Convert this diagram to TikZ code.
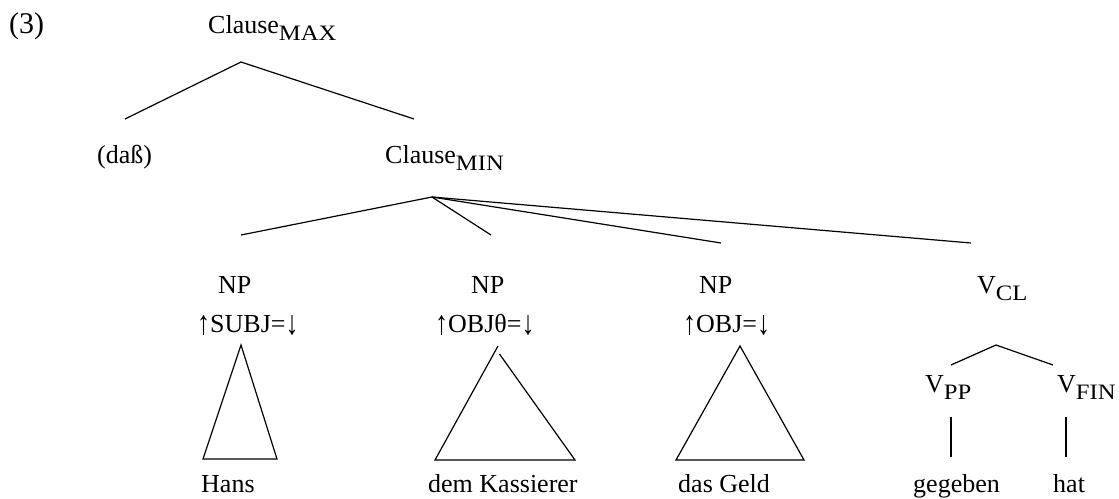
\documentclass[tikz,border=0pt]{standalone}
\usepackage{fontspec}
\setmainfont{Liberation Serif}
\usepackage{graphicx}
\newcommand{\lsub}[1]{\raisebox{-7pt}{\fontsize{22}{22}\selectfont\scalebox{1.12}[1]{#1}}}
\newcommand{\lblfont}{\fontsize{26}{30}\selectfont}
\newcommand{\uparr}{\raisebox{-2.5pt}{\scalebox{1}[1.3]{↑}}}
\newcommand{\dnarr}{\raisebox{-2.5pt}{\scalebox{1}[1.3]{↓}}}
\begin{document}
\begin{tikzpicture}[x=1pt,y=-1pt,
  lbl/.style={inner sep=0pt,anchor=base west,font=\lblfont},
  edge/.style={line width=1.2pt},
  tri/.style={line width=1.2pt,line join=miter}]
\useasboundingbox (0,0) rectangle (1119,498);
% labels
\node[lbl,font=\fontsize{30}{32}\selectfont] (ex) at (9,33) {(3)};
\node[lbl] (cmax) at (208,33) {Clause\lsub{MAX}};
\node[lbl] (dass) at (97,163) {(daß)};
\node[lbl] (cmin) at (385,163) {Clause\lsub{MIN}};
\node[lbl] (np1) at (218,293) {NP};
\node[lbl] (f1) at (197,332) {\uparr SUBJ=\dnarr};
\node[lbl] (np2) at (471,293) {NP};
\node[lbl] (f2) at (435,332) {\uparr OBJθ=\dnarr};
\node[lbl] (np3) at (699,293) {NP};
\node[lbl] (f3) at (683,332) {\uparr OBJ=\dnarr};
\node[lbl] (vcl) at (977,293) {V\lsub{CL}};
\node[lbl] (vpp) at (925,392) {V\lsub{PP}};
\node[lbl] (vfin) at (1057,392) {V\lsub{FIN}};
\node[lbl] (hans) at (201,492) {Hans};
\node[lbl] (kass) at (428,492) {dem Kassierer};
\node[lbl] (geld) at (678,492) {das Geld};
\node[lbl] (geg) at (913,492) {gegeben};
\node[lbl] (hat) at (1053,492) {hat};
% connector points
\coordinate (cmaxB) at (241,62);
\coordinate (dassT) at (125,119);
\coordinate (cminT) at (414,119);
\coordinate (cminB) at (432,197);
\coordinate (np1T) at (241,235);
\coordinate (np2T) at (491,235);
\coordinate (np3T) at (721,243);
\coordinate (vclT) at (971,243);
\coordinate (vclB) at (996,345);
\coordinate (vppT) at (951,365);
\coordinate (vfinT) at (1053,365);
\coordinate (vppB) at (951,417);
\coordinate (gegT) at (951,457);
\coordinate (vfinB) at (1066,417);
\coordinate (hatT) at (1066,457);
% tree edges
\draw[edge] (dassT) -- (cmaxB) -- (cminT);
\draw[edge] (cminB) -- (np1T);
\draw[edge] (cminB) -- (np2T);
\draw[edge] (cminB) -- (np3T);
\draw[edge] (cminB) -- (vclT);
\draw[edge] (vppT) -- (vclB) -- (vfinT);
\draw[edge] (vppB) -- (gegT);
\draw[edge] (vfinB) -- (hatT);
% triangles
\draw[tri] (241,345) -- (203,459) -- (277,459) -- cycle;
\draw[tri] (498,346) -- (435,460) -- (575,460) -- (499.5,354);
\draw[tri] (740,346) -- (676,460) -- (804,460) -- cycle;
\end{tikzpicture}
\end{document}
